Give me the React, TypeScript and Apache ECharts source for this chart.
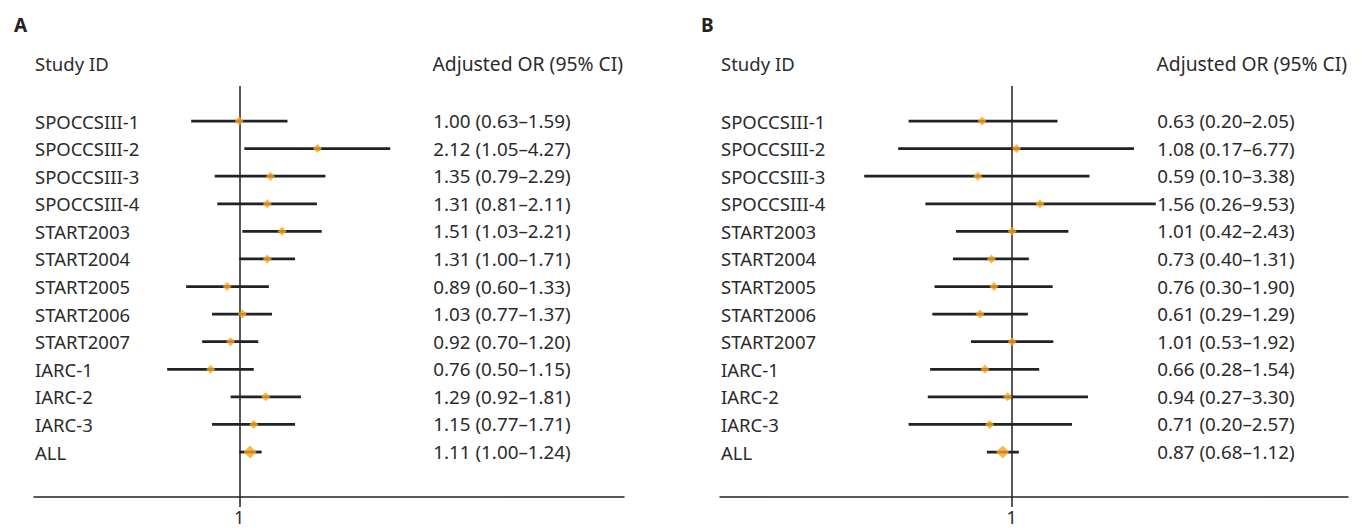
import React, { useEffect, useRef } from "react";
import * as echarts from "echarts";

const studies = [
  "SPOCCSIII-1", "SPOCCSIII-2", "SPOCCSIII-3", "SPOCCSIII-4", "START2003", "START2004",
  "START2005", "START2006", "START2007", "IARC-1", "IARC-2", "IARC-3", "ALL",
];
const orA = [1.0, 2.12, 1.35, 1.31, 1.51, 1.31, 0.89, 1.03, 0.92, 0.76, 1.29, 1.15, 1.11];
const loA = [0.63, 1.05, 0.79, 0.81, 1.03, 1.0, 0.6, 0.77, 0.7, 0.5, 0.92, 0.77, 1.0];
const hiA = [1.59, 4.27, 2.29, 2.11, 2.21, 1.71, 1.33, 1.37, 1.2, 1.15, 1.81, 1.71, 1.24];
const orB = [0.63, 1.08, 0.59, 1.56, 1.01, 0.73, 0.76, 0.61, 1.01, 0.66, 0.94, 0.71, 0.87];
const loB = [0.2, 0.17, 0.1, 0.26, 0.42, 0.4, 0.3, 0.29, 0.53, 0.28, 0.27, 0.2, 0.68];
const hiB = [2.05, 6.77, 3.38, 9.53, 2.43, 1.31, 1.9, 1.29, 1.92, 1.54, 3.3, 2.57, 1.12];
const panelTitles = ["A", "B"];
const headerLeft = "Study ID";
const headerRight = "Adjusted OR (95% CI)";
const refTicks = [1];

const FONT = '"Noto Sans", "Open Sans", sans-serif';
const TXT = "#2b2b2b";
const LINE = "#222";
const ORANGE = "#F9A21E";

const fmt = (o: number, l: number, h: number) =>
  `${o.toFixed(2)} (${l.toFixed(2)}\u2013${h.toFixed(2)})`;

function panelSeries(idx: number, or: number[], lo: number[], hi: number[]) {
  return [
    {
      type: "custom",
      xAxisIndex: idx,
      yAxisIndex: idx,
      z: 3,
      encode: { x: [0, 1], y: 2 },
      data: lo.map((l, i) => [l, hi[i], i]),
      renderItem: (params: any, api: any) => {
        const i = api.value(2);
        const p1 = api.coord([api.value(0), i]);
        const p2 = api.coord([api.value(1), i]);
        return {
          type: "line",
          shape: { x1: p1[0], y1: p1[1], x2: p2[0], y2: p2[1] },
          style: { stroke: LINE, lineWidth: 2.8 },
        };
      },
    },
    {
      type: "custom",
      xAxisIndex: idx,
      yAxisIndex: idx,
      z: 3,
      encode: { x: 0, y: 1 },
      data: or.map((o, i) => [o, i]),
      renderItem: (params: any, api: any) => {
        const i = params.dataIndex;
        const cs = params.coordSys;
        const y = api.coord([1, api.value(1)])[1];
        return {
          type: "group",
          children: [
            {
              type: "text",
              x: cs.x + 1,
              y,
              style: {
                text: studies[i],
                fontFamily: FONT,
                fontSize: 18.5,
                fill: TXT,
                align: "left",
                verticalAlign: "middle",
              },
            },
            {
              type: "text",
              x: cs.x + cs.width - 122,
              y,
              style: {
                text: fmt(or[i], lo[i], hi[i]),
                fontFamily: FONT,
                fontSize: 18.8,
                fill: TXT,
                align: "center",
                verticalAlign: "middle",
              },
            },
          ],
        };
      },
    },
    {
      type: "scatter",
      xAxisIndex: idx,
      yAxisIndex: idx,
      z: 5,
      symbol: "diamond",
      data: or.map((o, i) => ({
        value: [o, i],
        symbolSize: i === or.length - 1 ? [13, 13] : [9, 9],
      })),
      itemStyle: { color: ORANGE },
      markLine: {
        silent: true,
        symbol: ["none", "none"],
        label: { show: false },
        lineStyle: { color: LINE, width: 1.5, type: "solid" },
        data: [{ xAxis: 1 }],
        z: 1,
      },
    },
  ];
}

export default function App() {
  const ref = useRef<HTMLDivElement>(null);
  useEffect(() => {
    document.body.style.margin = "0";
    const chart = echarts.init(ref.current!, undefined, { renderer: "svg" });
    const grids = [
      { left: 34, top: 86, width: 590, height: 411 },
      { left: 720, top: 86, width: 628, height: 411 },
    ];
    const xRanges = [
      [0.139, 40.4],
      [0.0105, 192],
    ];
    const xAxis = xRanges.map((r, k) => ({
      type: "log",
      logBase: 10,
      gridIndex: k,
      min: r[0],
      max: r[1],
      axisLine: { show: true, onZero: false, lineStyle: { color: LINE, width: 1.5 } },
      axisTick: { show: true, customValues: refTicks, length: 10, lineStyle: { color: LINE, width: 1.5 } },
      axisLabel: {
        customValues: refTicks,
        formatter: (v: number) => String(v),
        fontFamily: FONT,
        fontSize: 18,
        lineHeight: 20,
        color: TXT,
        margin: 10,
      },
      splitLine: { show: false },
    }));
    const yAxis = [0, 1].map((k) => ({
      type: "value",
      gridIndex: k,
      inverse: true,
      min: -1.27,
      max: 13.63,
      show: false,
    }));
    const graphic: any[] = [];
    grids.forEach((g) => {
      graphic.push({
        type: "text",
        x: g.left + 1,
        y: 63,
        style: { text: headerLeft, fontFamily: FONT, fontSize: 18.5, fill: TXT, align: "left", verticalAlign: "middle" },
      });
      graphic.push({
        type: "text",
        x: g.left + g.width - 1,
        y: 63,
        style: { text: headerRight, fontFamily: FONT, fontSize: 19.3, fill: TXT, align: "right", verticalAlign: "middle" },
      });
    });
    chart.setOption({
      animation: false,
      title: panelTitles.map((t, k) => ({
        text: t,
        left: k === 0 ? 9 : 696,
        top: 10,
        textStyle: { fontFamily: FONT, fontSize: 19, fontWeight: "bold", color: LINE },
      })),
      grid: grids,
      xAxis,
      yAxis,
      graphic,
      series: [...panelSeries(0, orA, loA, hiA), ...panelSeries(1, orB, loB, hiB)],
    });
    return () => chart.dispose();
  }, []);
  return <div ref={ref} style={{ width: 1363, height: 528 }} />;
}
